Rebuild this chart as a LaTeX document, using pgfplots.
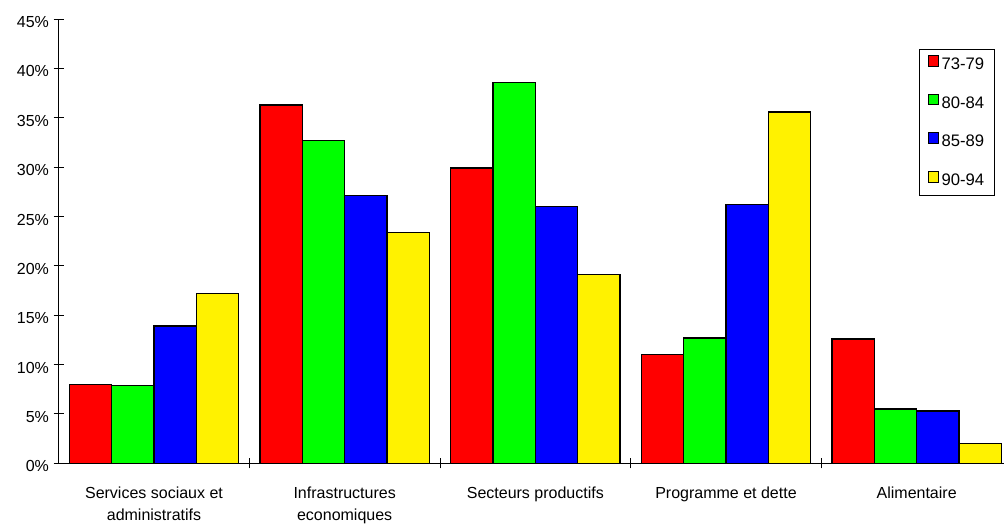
\documentclass[border=0pt]{standalone}
\usepackage{pgfplots}
\pgfplotsset{compat=1.18}
\usepackage{fontspec}
\setmainfont{Liberation Sans}
\usetikzlibrary{calc}

\pgfplotsset{
  sqlegend/.style={legend image code/.code={
    \draw[##1, line width=0.75pt] (0pt,-1pt) rectangle (7.5pt,7pt);}},
}

\begin{document}
\begin{tikzpicture}
\begin{axis}[
  scale only axis, width=715pt, height=333.2pt,
  ymin=0, ymax=45, xmin=-0.5, xmax=4.5,
  axis lines*=left,
  axis line style={line width=0.75pt},
  ybar=0pt, bar width=0.2224,
  font=\fontsize{12}{16.5}\selectfont,
  /pgf/number format/assume math mode=true,
  ytick={0,5,...,45},
  yticklabel={\pgfmathprintnumber{\tick}\%},
  yticklabel style={yshift=-2.25pt},
  ytick style={line width=0.75pt, black},
  major tick length=7.5pt, tick align=center,
  xtick={0.5,1.5,2.5,3.5},
  xticklabels={},
  xtick style={line width=0.75pt, black},
  extra x ticks={0,1,2,3,4},
  extra x tick labels={Services sociaux et\\administratifs, Infrastructures\\economiques, Secteurs productifs, Programme et dette, Alimentaire},
  extra x tick style={major tick length=0pt, xticklabel style={align=center, yshift=-14pt}},
  legend style={at={(0.9028,0.9325)}, anchor=north west, draw=black, line width=0.75pt,
    row sep=14.5pt, inner xsep=6pt, inner ysep=4pt, font=\fontsize{12.5}{14.4}\selectfont},
  legend cell align=left,
]
\addplot[fill=red, draw=black, line width=1pt, sqlegend] coordinates {(0,8.0) (1,36.3) (2,29.9) (3,11.0) (4,12.6)};
\addplot[fill=green, draw=black, line width=1pt, sqlegend] coordinates {(0,7.9) (1,32.7) (2,38.6) (3,12.7) (4,5.5)};
\addplot[fill=blue, draw=black, line width=1pt, sqlegend] coordinates {(0,13.9) (1,27.1) (2,26.0) (3,26.2) (4,5.3)};
\addplot[fill=yellow, draw=black, line width=1pt, sqlegend] coordinates {(0,17.2) (1,23.4) (2,19.1) (3,35.6) (4,2.0)};
\legend{73-79, 80-84, 85-89, 90-94}
\coordinate (O) at (rel axis cs:0,0);
\end{axis}
\pgfresetboundingbox
\path[use as bounding box] ($(O)+(-44pt,-50pt)$) rectangle ($(O)+(709pt,347.5pt)$);
\end{tikzpicture}
\end{document}
